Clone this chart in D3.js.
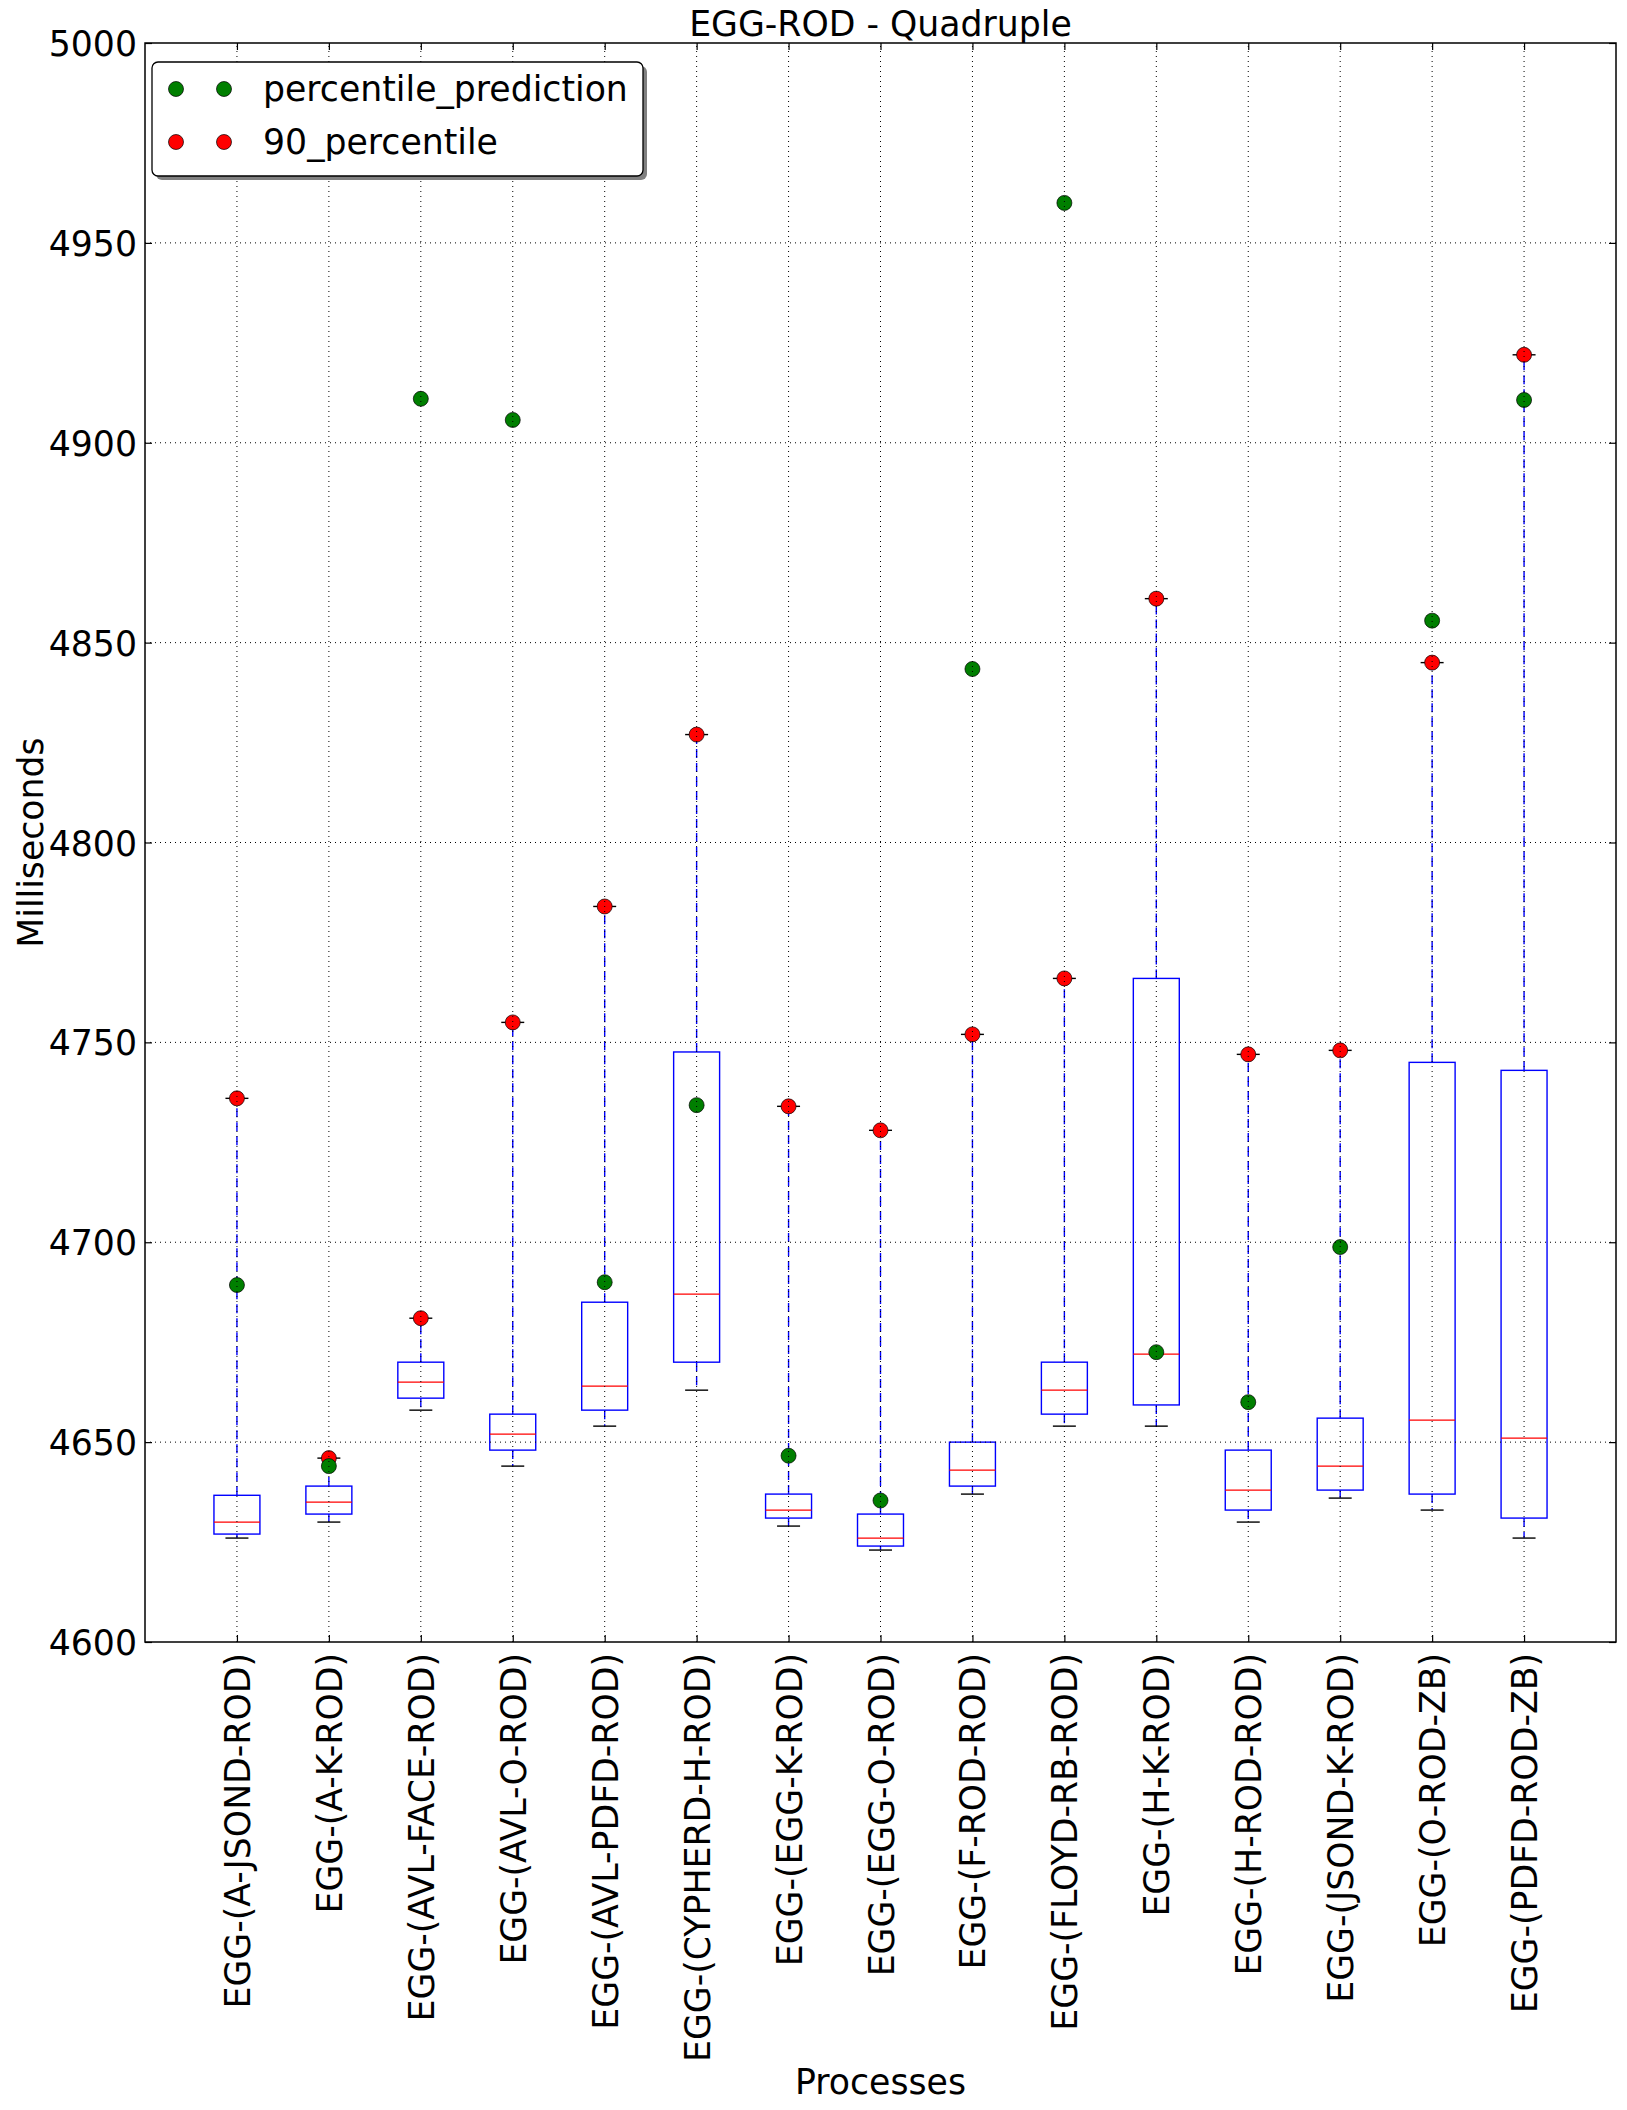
<!DOCTYPE html>
<html>
<head>
<meta charset="utf-8">
<script src="https://cdn.jsdelivr.net/npm/d3@7"></script>
<style>
  body { margin: 0; background: #fff; }
  svg { display: block; font-family: "DejaVu Sans", sans-serif; }
</style>
</head>
<body>
<svg width="1627" height="2110"></svg>
<script>
var width = 1627, height = 2110;
var margin = {left: 145, right: 11, top: 43, bottom: 468};
var fontSize = 34.7;

// box statistics
var categories = ["EGG-(A-JSOND-ROD)", "EGG-(A-K-ROD)", "EGG-(AVL-FACE-ROD)", "EGG-(AVL-O-ROD)",
  "EGG-(AVL-PDFD-ROD)", "EGG-(CYPHERD-H-ROD)", "EGG-(EGG-K-ROD)", "EGG-(EGG-O-ROD)",
  "EGG-(F-ROD-ROD)", "EGG-(FLOYD-RB-ROD)", "EGG-(H-K-ROD)", "EGG-(H-ROD-ROD)",
  "EGG-(JSOND-K-ROD)", "EGG-(O-ROD-ZB)", "EGG-(PDFD-ROD-ZB)"];
var lowWhisker = [4626, 4630, 4658, 4644, 4654, 4663, 4629, 4623, 4637, 4654, 4654, 4630, 4636, 4633, 4626];
var q1 =         [4627, 4632, 4661, 4648, 4658, 4670, 4631, 4624, 4639, 4657, 4659.3, 4633, 4638, 4637, 4631];
var median =     [4630, 4635, 4665, 4652, 4664, 4687, 4633, 4626, 4643, 4663, 4672, 4638, 4644, 4655.5, 4651];
var q3 =         [4636.7, 4639, 4670, 4657, 4685, 4747.6, 4637, 4632, 4650, 4670, 4766, 4648, 4656, 4745, 4743];
var ninetyPercentile = [4736, 4646, 4681, 4755, 4784, 4827, 4734, 4728, 4752, 4766, 4861, 4747, 4748, 4845, 4922];
var percentilePrediction = [4689.3, 4644, 4911, 4905.7, 4690, 4734.3, 4646.6, 4635.4, 4843.4, 4960, 4672.5, 4660, 4698.8, 4855.5, 4910.7];
var yTicks = [4600, 4650, 4700, 4750, 4800, 4850, 4900, 4950, 5000];

var svg = d3.select("svg");
svg.append("rect").attr("width", width).attr("height", height).attr("fill", "#fff");

var x = d3.scaleLinear().domain([0, categories.length + 1]).range([margin.left, width - margin.right]);
var y = d3.scaleLinear().domain([4600, 5000]).range([height - margin.bottom, margin.top]);
var positions = categories.map(function(d, i) { return i + 1; });
var boxHalf = 0.25, capHalf = 0.125;
var markerR = 7.5;

var data = categories.map(function(c, i) {
  return {name: c, pos: i + 1, lo: lowWhisker[i], q1: q1[i], med: median[i], q3: q3[i],
          hi: ninetyPercentile[i], p90: ninetyPercentile[i], pred: percentilePrediction[i]};
});

var plot = svg.append("g").attr("class", "plot");

// whiskers
var g = plot.selectAll("g.box").data(data).enter().append("g").attr("class", "box");
g.append("line")
  .attr("x1", function(d) { return x(d.pos); }).attr("x2", function(d) { return x(d.pos); })
  .attr("y1", function(d) { return y(d.q3); }).attr("y2", function(d) { return y(d.hi); })
  .attr("stroke", "#0000ff").attr("stroke-width", 1.4).attr("stroke-dasharray", "9,5");
g.append("line")
  .attr("x1", function(d) { return x(d.pos); }).attr("x2", function(d) { return x(d.pos); })
  .attr("y1", function(d) { return y(d.q1); }).attr("y2", function(d) { return y(d.lo); })
  .attr("stroke", "#0000ff").attr("stroke-width", 1.4).attr("stroke-dasharray", "9,5");
// caps
["lo", "hi"].forEach(function(k) {
  g.append("line")
    .attr("x1", function(d) { return x(d.pos - capHalf); }).attr("x2", function(d) { return x(d.pos + capHalf); })
    .attr("y1", function(d) { return y(d[k]); }).attr("y2", function(d) { return y(d[k]); })
    .attr("stroke", "#000").attr("stroke-width", 1.4);
});
// boxes
g.append("rect")
  .attr("x", function(d) { return x(d.pos - boxHalf); })
  .attr("width", function(d) { return x(d.pos + boxHalf) - x(d.pos - boxHalf); })
  .attr("y", function(d) { return y(d.q3); })
  .attr("height", function(d) { return y(d.q1) - y(d.q3); })
  .attr("fill", "none").attr("stroke", "#0000ff").attr("stroke-width", 1.4);
g.append("line")
  .attr("x1", function(d) { return x(d.pos - boxHalf); }).attr("x2", function(d) { return x(d.pos + boxHalf); })
  .attr("y1", function(d) { return y(d.med); }).attr("y2", function(d) { return y(d.med); })
  .attr("stroke", "#ff0000").attr("stroke-width", 1.2);

// points
plot.selectAll("circle.p90").data(data).enter().append("circle")
  .attr("class", "p90")
  .attr("cx", function(d) { return x(d.pos); }).attr("cy", function(d) { return y(d.p90); })
  .attr("r", markerR).attr("fill", "#ff0000").attr("stroke", "#000").attr("stroke-width", 0.7);
plot.selectAll("circle.pred").data(data).enter().append("circle")
  .attr("class", "pred")
  .attr("cx", function(d) { return x(d.pos); }).attr("cy", function(d) { return y(d.pred); })
  .attr("r", markerR).attr("fill", "#007f00").attr("stroke", "#000").attr("stroke-width", 0.7);

// grid on top (classic style)
var grid = svg.append("g").attr("class", "grid");
grid.selectAll("line.gy").data(yTicks.slice(1, -1)).enter().append("line")
  .attr("x1", x.range()[0]).attr("x2", x.range()[1])
  .attr("y1", function(d) { return y(d); }).attr("y2", function(d) { return y(d); })
  .attr("stroke", "#000").attr("stroke-width", 1).attr("stroke-dasharray", "1,4");
grid.selectAll("line.gx").data(positions).enter().append("line")
  .attr("y1", y.range()[0]).attr("y2", y.range()[1])
  .attr("x1", function(d) { return x(d); }).attr("x2", function(d) { return x(d); })
  .attr("stroke", "#000").attr("stroke-width", 1).attr("stroke-dasharray", "1,4");

// axes
var yAxis = svg.append("g").attr("transform", "translate(" + margin.left + ",0)")
  .call(d3.axisLeft(y).tickValues(yTicks).tickFormat(d3.format("d")).tickSize(-7).tickPadding(8));
svg.append("g").attr("transform", "translate(" + (width - margin.right) + ",0)")
  .call(d3.axisRight(y).tickValues(yTicks).tickFormat("").tickSize(-7));
var xAxis = svg.append("g").attr("transform", "translate(0," + (height - margin.bottom) + ")")
  .call(d3.axisBottom(x).tickValues(positions).tickFormat(function(d) { return categories[d - 1]; }).tickSize(-7));
svg.append("g").attr("transform", "translate(0," + margin.top + ")")
  .call(d3.axisTop(x).tickValues(positions).tickFormat("").tickSize(-7));
svg.selectAll(".domain").remove();
svg.selectAll(".tick line").attr("stroke", "#000").attr("stroke-width", 1.2);
svg.selectAll(".tick text").attr("font-size", fontSize).attr("font-family", "DejaVu Sans").attr("fill", "#000");
yAxis.selectAll(".tick text").attr("dy", "0.36em");
xAxis.selectAll(".tick text")
  .attr("text-anchor", "end")
  .attr("transform", "translate(0,11) rotate(-90)")
  .attr("x", 0).attr("y", 0).attr("dy", "0.36em");

// frame
svg.append("rect")
  .attr("x", margin.left).attr("y", margin.top)
  .attr("width", width - margin.right - margin.left)
  .attr("height", height - margin.bottom - margin.top)
  .attr("fill", "none").attr("stroke", "#000").attr("stroke-width", 1.5);

// title and labels
svg.append("text").attr("x", (x.range()[0] + x.range()[1]) / 2).attr("y", 36)
  .attr("text-anchor", "middle").attr("font-size", fontSize).text("EGG-ROD - Quadruple");
svg.append("text").attr("x", (x.range()[0] + x.range()[1]) / 2).attr("y", 2094)
  .attr("text-anchor", "middle").attr("font-size", fontSize).text("Processes");
svg.append("text")
  .attr("transform", "translate(43," + ((y.range()[0] + y.range()[1]) / 2) + ") rotate(-90)")
  .attr("text-anchor", "middle").attr("font-size", fontSize).text("Milliseconds");

// legend
var legend = svg.append("g").attr("class", "legend");
legend.append("rect").attr("x", 156).attr("y", 66).attr("width", 491).attr("height", 114)
  .attr("rx", 6).attr("fill", "#808080");
legend.append("rect").attr("x", 152).attr("y", 62).attr("width", 491).attr("height", 114)
  .attr("rx", 6).attr("fill", "#fff").attr("stroke", "#000").attr("stroke-width", 1.3);
var legendItems = [{label: "percentile_prediction", color: "#007f00", cy: 89},
                   {label: "90_percentile", color: "#ff0000", cy: 142}];
var li = legend.selectAll("g.item").data(legendItems).enter().append("g").attr("class", "item");
[176, 224].forEach(function(cx) {
  li.append("circle").attr("cx", cx).attr("cy", function(d) { return d.cy; }).attr("r", markerR)
    .attr("fill", function(d) { return d.color; }).attr("stroke", "#000").attr("stroke-width", 0.7);
});
li.append("text").attr("x", 263).attr("y", function(d) { return d.cy; }).attr("dy", "0.36em")
  .attr("font-size", fontSize).text(function(d) { return d.label; });
</script>
</body>
</html>
